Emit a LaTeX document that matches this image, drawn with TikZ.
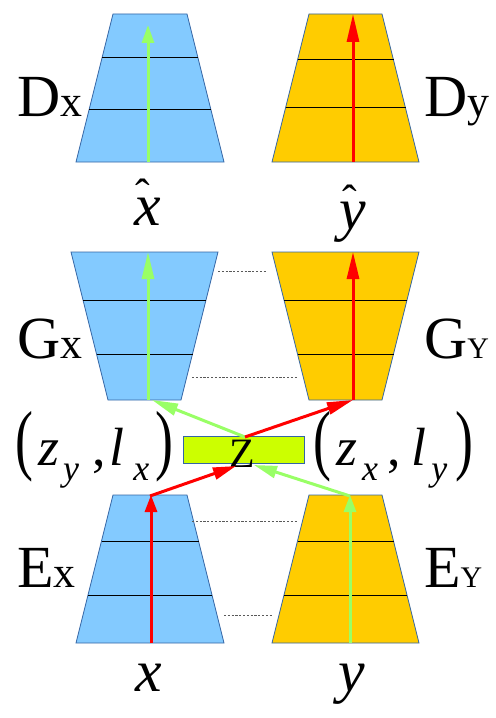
\documentclass[tikz,border=0pt]{standalone}
\usepackage{fontspec}
\setmainfont{Liberation Serif}
\usetikzlibrary{arrows.meta}
\definecolor{encblue}{HTML}{83CAFF}
\definecolor{encorange}{HTML}{FFCC00}
\definecolor{edgeblue}{HTML}{3465A4}
\definecolor{arrgreen}{HTML}{99FF66}
\definecolor{arrred}{HTML}{FF0000}
\definecolor{zfill}{HTML}{CCFF00}
\tikzset{
 trapblue/.style={fill=encblue, draw=edgeblue, line width=0.8bp},
 trapora/.style={fill=encorange, draw=edgeblue, line width=0.8bp},
 layer/.style={draw=black, line width=1bp},
 link/.style={draw=gray!70!black, line width=0.9bp, dash pattern=on 2.2bp off 1.6bp},
 arr/.style={line width=3bp, -{Triangle[length=#1,width=12bp]}},
 arr/.default=22bp,
 lab/.style={inner sep=0pt, anchor=base west},
 var/.style={inner sep=0pt, anchor=base, font=\fontsize{60}{60}\selectfont\itshape},
 zbox/.style={draw=edgeblue, fill=zfill, line width=0.8bp, minimum width=121bp, minimum height=27bp, inner sep=0pt},
}
\newcommand\netlab[3]{{\fontsize{60}{60}\selectfont #1}{\fontsize{#3}{#3}\selectfont #2}}
\newcommand\tallpar[1]{\scalebox{1}[1.45]{#1}}
\newcommand\subsc[1]{\raisebox{-15bp}{\fontsize{36}{36}\selectfont\itshape #1}}
\begin{document}
\begin{tikzpicture}[x=1bp,y=-1bp]
\useasboundingbox (0,0) rectangle (496,718);
% ---------- D_X ----------
\draw[trapblue] (76,162) -- (224,162) -- (187,14) -- (113,14) -- cycle;
\draw[layer] (102,58) -- (198,58);
\draw[layer] (89,110) -- (211,110);
\coordinate (dxb) at (148,162);
\coordinate (dxt) at (148,25);
\draw[arr=18bp, arrgreen] (dxb) -- (dxt);
% ---------- D_Y ----------
\draw[trapora] (272,162) -- (419,162) -- (382,14) -- (309,14) -- cycle;
\draw[layer] (297.5,60) -- (393.5,60);
\draw[layer] (285.5,108) -- (405.5,108);
\coordinate (dyb) at (353,162);
\coordinate (dyt) at (353,14);
\draw[arr=28bp, arrred] (dyb) -- (dyt);
% ---------- G_X ----------
\draw[trapblue] (71,252) -- (218,252) -- (181,400) -- (108,400) -- cycle;
\draw[layer] (83,300) -- (206,300);
\draw[layer] (96.5,354) -- (192.5,354);
\coordinate (gxb) at (148,400);
\coordinate (gxt) at (148,252);
\draw[arr=27bp, arrgreen] (gxb) -- (gxt);
% ---------- G_Y ----------
\draw[trapora] (272,252) -- (419,252) -- (382,400) -- (309,400) -- cycle;
\draw[layer] (284,300) -- (407,300);
\draw[layer] (297.5,354) -- (393.5,354);
\coordinate (gyb) at (353,400);
\coordinate (gyt) at (353,252);
\draw[arr=27bp, arrred] (gyb) -- (gyt);
% ---------- E_X ----------
\draw[trapblue] (76,643) -- (224,643) -- (187,495) -- (113,495) -- cycle;
\draw[layer] (101.5,541) -- (198.5,541);
\draw[layer] (88,595) -- (212,595);
\coordinate (exb) at (151,643);
\coordinate (ext) at (151,495);
\draw[arr=17bp, arrred] (exb) -- (ext);
% ---------- E_Y ----------
\draw[trapora] (272,643) -- (419,643) -- (382,495) -- (309,495) -- cycle;
\draw[layer] (297.5,541) -- (393.5,541);
\draw[layer] (284,595) -- (407,595);
\coordinate (eyb) at (350,643);
\coordinate (eyt) at (350,495);
\draw[arr=17bp, arrgreen] (eyb) -- (eyt);
% ---------- dashed links ----------
\coordinate (l1a) at (218,271); \coordinate (l1b) at (267,271);
\coordinate (l2a) at (192,377); \coordinate (l2b) at (298,377);
\coordinate (l3a) at (192,521); \coordinate (l3b) at (298,521);
\coordinate (l4a) at (224,615); \coordinate (l4b) at (272,615);
\draw[link] (l1a) -- (l1b);
\draw[link] (l2a) -- (l2b);
\draw[link] (l3a) -- (l3b);
\draw[link] (l4a) -- (l4b);
% ---------- Z ----------
\node[zbox] (zb) at (243.5,450) {};
\node[inner sep=0pt, anchor=base, font=\fontsize{42}{42}\selectfont] (zl) at (242.5,467) {Z};
\coordinate (zt) at (245,437);
\coordinate (gxin) at (152,400);
\coordinate (gyin) at (353,400);
\coordinate (exo) at (150,496);
\coordinate (eyo) at (350,496);
\coordinate (zr) at (236,466);
\coordinate (zg) at (254,465);
\draw[arr=26bp, arrgreen] (zt) -- (gxin);
\draw[arr=26bp, arrred] (zt) -- (gyin);
\draw[arr=23bp, arrred] (exo) -- (zr);
\draw[arr=23bp, arrgreen] (eyo) -- (zg);
% ---------- labels ----------
\node[lab] (ldx) at (17,117) {\netlab{D}{x}{44}};
\node[lab] (ldy) at (424,117) {\netlab{D}{y}{44}};
\node[lab] (lgx) at (17,358) {\netlab{G}{x}{44}};
\node[lab] (lgy) at (424,358) {\netlab{G}{Y}{30}};
\node[lab] (lex) at (17,587) {\netlab{E}{x}{44}};
\node[lab] (ley) at (424,587) {\netlab{E}{Y}{30}};
\node[var] (xhat) at (148,225) {\ooalign{x\cr\hss\raisebox{16bp}{\fontsize{44}{44}\selectfont\upshape ˆ}\kern10bp\hss\cr}};
\node[var] (yhat) at (353,229) {\ooalign{y\cr\hss\raisebox{14bp}{\fontsize{44}{44}\selectfont\upshape ˆ}\kern6bp\hss\cr}};
\node[var] (xin) at (149,691) {x};
\node[var] (yin) at (352,691) {y};
\node[lab, font=\fontsize{54}{54}\selectfont] (zyl) at (15,465) {\tallpar{(}\hspace{5bp}\textit{z}\hspace{4bp}\subsc{y}\hspace{14bp},\hspace{3bp}\textit{l}\hspace{9bp}\subsc{x}\hspace{6bp}\tallpar{)}};
\node[lab, font=\fontsize{54}{54}\selectfont] (zxl) at (313,465) {\tallpar{(}\hspace{5bp}\textit{z}\hspace{5bp}\subsc{x}\hspace{10bp},\hspace{10bp}\textit{l}\hspace{5bp}\subsc{y}\hspace{8bp}\tallpar{)}};
\end{tikzpicture}
\end{document}
